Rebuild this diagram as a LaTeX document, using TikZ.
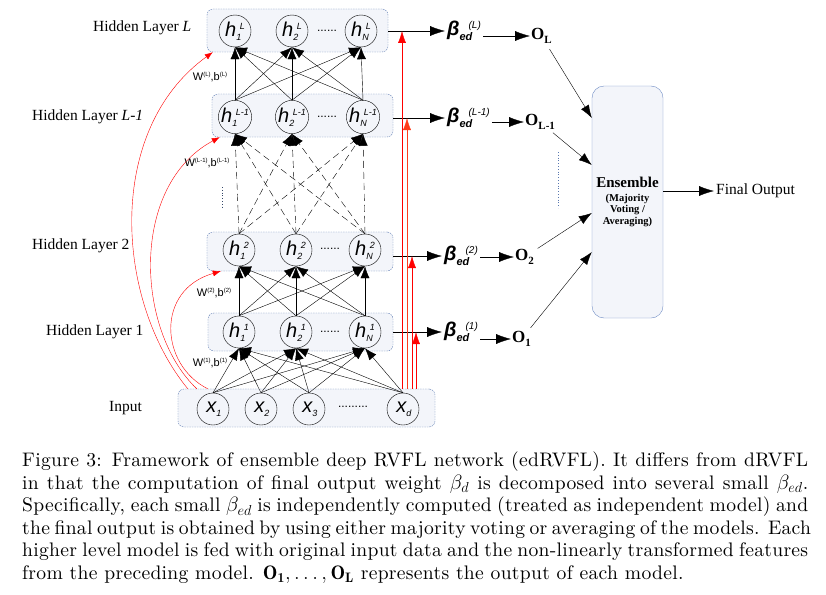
\documentclass[tikz,border=0pt]{standalone}
\usepackage{fontspec}
\usepackage{amsmath}
\usetikzlibrary{arrows.meta}
\newfontfamily\tnr{Liberation Serif}
\newfontfamily\arl{Liberation Sans}
\newfontfamily\capfont[LetterSpace=1.5]{lmroman10-regular.otf}
\definecolor{boxline}{HTML}{5A78B0}
\definecolor{boxfill}{HTML}{F3F5FA}
\definecolor{ensline}{HTML}{6F8CC4}
\definecolor{redtwo}{HTML}{FF3B1A}
\newcommand{\nlab}[3]{{\arl\itshape\fontsize{20}{20}\selectfont #1}\rlap{\raisebox{-4pt}{\arl\itshape\fontsize{9}{9}\selectfont #2}}\hspace{3.5pt}\raisebox{7pt}{\arl\itshape\fontsize{9}{9}\selectfont #3}}
\newcommand{\blab}[1]{{\arl\bfseries\itshape\fontsize{20}{20}\selectfont β}\rlap{\raisebox{-5pt}{\arl\bfseries\itshape\fontsize{11}{11}\selectfont ed}}\hspace{9pt}\raisebox{7pt}{\arl\itshape\fontsize{10}{10}\selectfont (#1)}}
\newcommand{\olab}[1]{{\tnr\bfseries\fontsize{17}{17}\selectfont O\raisebox{-4pt}{\fontsize{11}{11}\selectfont #1}}}
\newcommand{\wlab}[1]{{\arl\fontsize{11}{11}\selectfont W\raisebox{4pt}{\fontsize{6}{6}\selectfont(#1)},b\raisebox{4pt}{\fontsize{6}{6}\selectfont(#1)}}}

\begin{document}
\begin{tikzpicture}[x=1pt,y=-1pt,
  neuron/.style={circle,draw,thin,minimum size=32pt,inner sep=0pt},
  layerbox/.style={draw=boxline,dash pattern=on 1.5pt off 1pt,fill=boxfill,rounded corners=6pt,inner sep=0pt},
  link/.style={thin,-{Latex[length=12pt,width=9pt]}},
  dlink/.style={link,dash pattern=on 7pt off 4pt},
  feed/.style={red,thin,-{Latex[length=8pt,width=6pt]}},
  feedv/.style={thin,-{Latex[length=12pt,width=8pt]}},
  outarr/.style={thin,-{Latex[length=15pt,width=10pt]}},
  ensarr/.style={thin,-{Latex[length=13pt,width=9pt]}},
  laylab/.style={font=\tnr\fontsize{15.5}{15.5}\selectfont,anchor=west,inner sep=0pt},
  dotlab/.style={font=\arl\fontsize{12}{12}\selectfont,inner sep=0pt}]
\useasboundingbox (0,0) rectangle (826,594);
\node[layerbox,minimum width=181pt,minimum height=43pt] (boxL) at (297.5,30.5) {};
\node[layerbox,minimum width=181pt,minimum height=43pt] (boxm) at (302.5,115.5) {};
\node[layerbox,minimum width=186pt,minimum height=39pt] (box2) at (300,251.5) {};
\node[layerbox,minimum width=185pt,minimum height=38pt] (box1) at (300.5,332) {};
\node[layerbox,minimum width=257pt,minimum height=38pt] (boxin) at (306.5,408) {};
\node[laylab] (labL) at (93,28) {Hidden Layer \textit{L}};
\node[laylab] (labm) at (32,117) {Hidden Layer \textit{L-1}};
\node[laylab] (lab2) at (32,246) {Hidden Layer 2};
\node[laylab] (lab1) at (46,332) {Hidden Layer 1};
\node[laylab] (labin) at (109,408) {Input};
\node[neuron] (d1) at (235,31) {\nlab{h}{1}{L}};
\node[neuron] (d2) at (292,31) {\nlab{h}{2}{L}};
\node[neuron] (dN) at (361,31) {\nlab{h}{N}{L}};
\node[dotlab] (dotsL) at (327,31) {......};
\node[neuron] (c1) at (235,117) {\nlab{h}{1}{L-1}};
\node[neuron] (c2) at (292,117) {\nlab{h}{2}{L-1}};
\node[neuron] (cN) at (363,117) {\nlab{h}{N}{L-1}};
\node[dotlab] (dotsm) at (327,117) {......};
\node[neuron] (b1) at (239,250) {\nlab{h}{1}{2}};
\node[neuron] (b2) at (296,250) {\nlab{h}{2}{2}};
\node[neuron] (bN) at (365,250) {\nlab{h}{N}{2}};
\node[dotlab] (dots2) at (330,249) {......};
\node[neuron] (a1) at (239,332) {\nlab{h}{1}{1}};
\node[neuron] (a2) at (296,332) {\nlab{h}{2}{1}};
\node[neuron] (aN) at (365,332) {\nlab{h}{N}{1}};
\node[dotlab] (dots1) at (330,332) {......};
\node[neuron] (x1) at (213,409) {\nlab{x}{1}{}};
\node[neuron] (x2) at (261,409) {\nlab{x}{2}{}};
\node[neuron] (x3) at (309,409) {\nlab{x}{3}{}};
\node[neuron] (xd) at (403,409) {\nlab{x}{d}{}};
\node[dotlab] (dotsin) at (353,407) {.........};
\foreach \i in {x1,x2,x3,xd} \foreach \j in {a1,a2,aN} \draw[link] (\i.north) -- (\j.south);
\foreach \i in {a1,a2,aN} \foreach \j in {b1,b2,bN} \draw[link] (\i.north) -- (\j.south);
\foreach \i in {b1,b2,bN} \foreach \j in {c1,c2,cN} \draw[dlink] (\i.north) -- (\j.south);
\foreach \i in {c1,c2,cN} \foreach \j in {d1,d2,dN} \draw[link] (\i.north) -- (\j.south);
\draw[boxline!60!black,dotted,thick] (222,187) -- (222,207);
\draw[feed] ([xshift=10pt]boxin.north west) .. controls (115,300) and (105,130) .. ([xshift=6pt]boxL.south west);
\draw[feed] ([xshift=19pt]boxin.north west) .. controls (135,330) and (130,185) .. ([xshift=8pt]boxm.south west);
\draw[feed] ([xshift=30pt]boxin.north west) .. controls (160,365) and (155,290) .. ([xshift=14pt]box2.south west);
\node[inner sep=0pt] (wL) at (210,77) {\wlab{L}};
\node[inner sep=0pt] (wm) at (207,163) {\wlab{L-1}};
\node[inner sep=0pt] (w2) at (214,293) {\wlab{2}};
\node[inner sep=0pt] (w1) at (210,363) {\wlab{1}};
\node[anchor=west,inner sep=2pt] (betL) at (445,31) {\blab{L}};
\node[anchor=west,inner sep=2pt] (betm) at (445,118) {\blab{L-1}};
\node[anchor=west,inner sep=2pt] (bet2) at (442,256) {\blab{2}};
\node[anchor=west,inner sep=2pt] (bet1) at (442,332) {\blab{1}};
\draw[outarr] (boxL.east |- betL.west) -- (betL.west);
\draw[outarr] (boxm.east |- betm.west) -- (betm.west);
\draw[outarr] (box2.east |- bet2.west) -- (bet2.west);
\draw[outarr] (box1.east |- bet1.west) -- (bet1.west);
\draw[feedv,red] (402,0 |- boxin.north) -- (402,0 |- betL.west);
\draw[feedv,redtwo] (407,0 |- boxin.north) -- (407,0 |- betm.west);
\draw[feedv,red] (412,0 |- boxin.north) -- (412,0 |- bet2.west);
\draw[feedv,red] (416,0 |- boxin.north) -- (416,0 |- bet1.west);
\node[anchor=west,inner sep=1pt] (oL) at (530,36) {\olab{L}};
\node[anchor=west,inner sep=1pt] (om) at (524,122) {\olab{L-1}};
\node[anchor=west,inner sep=1pt] (o2) at (514,257) {\olab{2}};
\node[anchor=west,inner sep=1pt] (o1) at (511,339) {\olab{1}};
\draw[outarr] (betL.east |- oL.west) -- (oL.west);
\draw[outarr] (betm.east |- om.west) -- (om.west);
\draw[outarr] (bet2.east |- o2.west) -- (o2.west);
\draw[outarr] (bet1.east |- o1.west) -- (o1.west);
\node[draw=ensline,fill=boxfill,rounded corners=12pt,minimum width=71pt,minimum height=232pt,inner sep=0pt,align=center,
  font=\tnr\bfseries\fontsize{10.5}{11.5}\selectfont] (ens) at (627.5,202)
  {{\fontsize{15}{15}\selectfont Ensemble}\\[2pt](Majority\\Voting /\\Averaging)};
\draw[ensarr,shorten <=5pt] (oL) -- (ens.west |- 0,118);
\draw[ensarr,shorten <=3pt] (om) -- (ens.west |- 0,165);
\draw[ensarr,shorten <=3pt] (o2) -- (ens.west |- 0,213);
\draw[ensarr,shorten <=3pt] (o1) -- (ens.west |- 0,252);
\draw[boxline,dotted,thick] (558,152) -- (558,208);
\node[anchor=west,font=\tnr\fontsize{15.5}{15.5}\selectfont,inner sep=2pt] (final) at (714,191) {Final Output};
\draw[outarr] (ens.east |- final.west) -- (final.west);
\node[anchor=north west,text width=786pt,inner sep=0pt,align=justify,
  font=\capfont\fontsize{19.6}{22.5}\selectfont] (cap) at (22,452)
  {Figure 3: Framework of ensemble deep RVFL network (edRVFL). It differs from dRVFL\linebreak
  in that the computation of final output weight $\beta_d$ is decomposed into several small $\beta_{ed}$.\linebreak
  Specifically, each small $\beta_{ed}$ is independently computed (treated as independent model) and\linebreak
  the final output is obtained by using either majority voting or averaging of the models. Each\linebreak
  higher level model is fed with original input data and the non-linearly transformed features\linebreak
  from the preceding model. $\mathbf{O_1},\ldots,\mathbf{O_L}$ represents the output of each model.};
\end{tikzpicture}
\end{document}
